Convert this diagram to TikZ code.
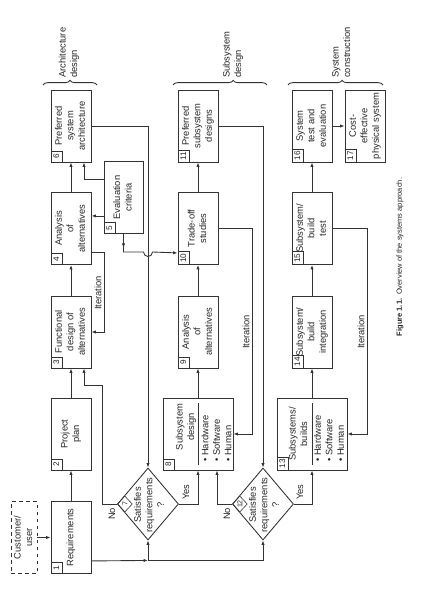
\documentclass[tikz,border=0pt]{standalone}
\usepackage{fontspec}
\setmainfont{Liberation Sans}
\usepackage{graphicx}
\usetikzlibrary{arrows.meta,calc,shapes.geometric,decorations.pathreplacing}
\definecolor{LineGray}{HTML}{333333}
\definecolor{TextGray}{HTML}{262626}
\newcommand{\rotc}[1]{\rotatebox{90}{\begin{tabular}{@{}c@{}}#1\end{tabular}}}
\newcommand{\rotl}[1]{\rotatebox{90}{\begin{tabular}{@{}l@{}}#1\end{tabular}}}

\begin{document}
\begin{tikzpicture}[x=0.03cm, y=-0.03cm,
    every node/.style={font=\fontsize{8}{9.8}\selectfont, text=TextGray},
    blk/.style={draw=LineGray, line width=0.75pt, minimum width=1.2cm,
                minimum height=2.16cm, inner sep=0pt},
    wblk/.style={blk, minimum width=2.1cm},
    tag/.style={draw=LineGray, line width=0.5pt, anchor=south west,
                minimum size=0.33cm, inner xsep=0.6pt, inner ysep=1.6pt,
                font=\fontsize{7}{8}\selectfont},
    dia/.style={draw=LineGray, line width=0.75pt, diamond, minimum width=1.83cm,
                minimum height=2.16cm, inner sep=0pt},
    dtag/.style={draw=LineGray, line width=0.5pt, diamond, anchor=west,
                 minimum width=0.45cm, minimum height=0.48cm, inner sep=-1.2pt,
                 font=\fontsize{6}{7}\selectfont},
    txt/.style={inner sep=0pt},
    ln/.style={draw=LineGray, line width=0.75pt},
    ar/.style={-{Latex[length=3.8pt,width=2.8pt]}, draw=LineGray, line width=0.75pt},
    brc/.style={ln, decorate, decoration={brace, amplitude=4pt, aspect=#1}},
    brc/.default=0.5]
  \useasboundingbox (0,0) rectangle (428,596);

  % architecture design column
  \node[blk, dashed, minimum width=0.78cm] (cust) at (24,537.5) {\rotc{Customer/\\user}};
  \node[blk] (req)  at (71,537.5) {\rotc{Requirements}};
  \node[blk] (plan) at (71,434)   {\rotc{Project\\plan}};
  \node[blk] (func) at (71,332)   {\rotc{Functional\\design of\\alternatives}};
  \node[blk] (anaA) at (71,228.5) {\rotc{Analysis\\of\\alternatives}};
  \node[blk, minimum width=1.17cm] (eval) at (123.5,197.5) {\rotc{Evaluation\\criteria}};
  \node[blk] (arch) at (71,126)   {\rotc{Preferred\\system\\architecture}};
  \node[dia] (satA) at (148,504) {};

  % subsystem design column
  \node[wblk] (subd)  at (198,434)   {};
  \node[blk]  (anaB)  at (198,332)   {\rotc{Analysis\\of\\alternatives}};
  \node[blk]  (trade) at (198,228.5) {\rotc{Trade-off\\studies}};
  \node[blk]  (prefs) at (198,126)   {\rotc{Preferred\\subsystem\\designs}};
  \node[dia]  (satB)  at (263,504) {};

  % system construction column
  \node[wblk] (builds) at (312,434)   {};
  \node[blk]  (integ)  at (312,332)   {\rotc{Subsystem/\\build\\integration}};
  \node[blk]  (btest)  at (312,228.5) {\rotc{Subsystem/\\build\\test}};
  \node[blk]  (stest)  at (312,126)   {\rotc{System\\test and\\evaluation}};
  \node[blk]  (final)  at (365,126)   {\rotc{Cost-\\effective\\physical system}};

  % box contents
  \node[txt] (subdtxt) at ($(subd.center)+(-12,-7)$) {\rotc{Subsystem\\design}};
  \draw[ln, line width=0.5pt] ($(subd.center)+(0,-31)$) -- ($(subd.center)+(0,31)$);
  \node[txt, anchor=south] (subdlist) at ($(subd.center)+(19.5,28)$)
    {\rotl{\textbullet\ Hardware\\\textbullet\ Software\\\textbullet\ Human}};
  \node[txt] (buildtxt) at ($(builds.center)+(-13,0)$) {\rotc{Subsystems/\\builds}};
  \draw[ln, line width=0.5pt] ($(builds.center)+(0,-31)$) -- ($(builds.center)+(0,31)$);
  \node[txt, anchor=south] (buildlist) at ($(builds.center)+(18,28)$)
    {\rotl{\textbullet\ Hardware\\\textbullet\ Software\\\textbullet\ Human}};
  \node[txt] (satAtxt) at ($(satA.center)+(2,1)$) {\rotc{Satisfies\\requirements\\?}};
  \node[txt] (satBtxt) at ($(satB.center)+(2,1)$) {\rotc{Satisfies\\requirements\\?}};

  % numbers
  \node[tag] (n1)  at (req.south west)    {\rotatebox{90}{1}};
  \node[tag] (n2)  at (plan.south west)   {\rotatebox{90}{2}};
  \node[tag] (n3)  at (func.south west)   {\rotatebox{90}{3}};
  \node[tag] (n4)  at (anaA.south west)   {\rotatebox{90}{4}};
  \node[tag] (n5)  at (eval.south west)   {\rotatebox{90}{5}};
  \node[tag] (n6)  at (arch.south west)   {\rotatebox{90}{6}};
  \node[dtag] (n7) at (satA.west)         {\rotatebox{90}{7}};
  \node[tag] (n8)  at (subd.south west)   {\rotatebox{90}{8}};
  \node[tag] (n9)  at (anaB.south west)   {\rotatebox{90}{9}};
  \node[tag] (n10) at (trade.south west)  {\rotatebox{90}{10}};
  \node[tag] (n11) at (prefs.south west)  {\rotatebox{90}{11}};
  \node[dtag] (n12) at (satB.west)        {\rotatebox{90}{12}};
  \node[tag] (n13) at (builds.south west) {\rotatebox{90}{13}};
  \node[tag] (n14) at (integ.south west)  {\rotatebox{90}{14}};
  \node[tag] (n15) at (btest.south west)  {\rotatebox{90}{15}};
  \node[tag] (n16) at (stest.south west)  {\rotatebox{90}{16}};
  \node[tag] (n17) at (final.south west)  {\rotatebox{90}{17}};

  % labels
  \node[txt] (noA)  at (112,514) {\rotatebox{90}{No}};
  \node[txt] (yesA) at (186,492) {\rotatebox{90}{Yes}};
  \node[txt] (noB)  at (227,514) {\rotatebox{90}{No}};
  \node[txt] (yesB) at (300,492) {\rotatebox{90}{Yes}};
  \node[txt] (itA)  at (98,293)  {\rotatebox{90}{Iteration}};
  \node[txt] (itB)  at (246,332) {\rotatebox{90}{Iteration}};
  \node[txt] (itC)  at (361,332) {\rotatebox{90}{Iteration}};

  % connectors
  \draw[ar] (cust) -- (req);
  \draw[ar] (req) -- (plan);
  \draw[ar] (plan) -- (func);
  \draw[ar] (func) -- (anaA);
  \draw[ar] (anaA) -- (arch);
  \draw[ar] ($(req.south east)+(0,-13)$) -- ($(satA.south)+(0,20)$);
  \draw[ar] ($(satA.south)+(0,20)$) -- (satA.south);
  \draw[ar] ($(satA.south)+(0,20)$) -| (satB.south);
  \draw[ar] (satA.west) -- ++(-15,0) |- ($(func.south)+(13,17)$) -- ($(func.south)+(13,0)$);
  \draw[ar] (satA.east) -| (subd.south);
  \draw[ar] (satB.west) -| ($(subd.south)+(19,0)$);
  \draw[ar] (satB.east) -| (builds.south);
  \draw[ar] ($(anaA.south east)+(0,-13)$) -- ++(13,0) |- (func.east);
  \draw[ar] ($(eval.south west)+(0,-18)$) -- ($(anaA.south east)+(0,-49)$);
  \draw[ar] ($(eval.north west)+(0,18)$) -| ($(arch.south)+(13,0)$);
  \draw[ar] (eval.south) -- ++(0,14);
  \draw[ar] (eval.south) |- (143.5,252) arc[start angle=180, end angle=360, radius=0.135cm]
    -- ($(trade.south west)+(0,-12)$);
  \draw[ar] (arch.east) -| (satA.north);
  \draw[ar] (subd) -- (anaB);
  \draw[ar] (anaB) -- (trade);
  \draw[ar] (trade) -- (prefs);
  \draw[ar] (trade.east) -- ++(34,0) |- (subd.east);
  \draw[ar] (prefs.east) -| (satB.north);
  \draw[ar] (builds) -- (integ);
  \draw[ar] (integ) -- (btest);
  \draw[ar] (btest) -- (stest);
  \draw[ar] (stest) -- (final);
  \draw[ar] (btest.east) -- ++(35,0) |- (builds.east);

  % phase braces
  \draw[brc] (43,85) -- (97,85);
  \draw[brc=0.64] (173,85) -- (267,85);
  \draw[brc=0.57] (288,85) -- (383,85);
  \node[txt, anchor=south] (archlbl) at (69,78)  {\rotl{Architecture\\design}};
  \node[txt, anchor=south] (sublbl)  at (233,78) {\rotl{Subsystem\\design}};
  \node[txt, anchor=south] (conlbl)  at (342,78) {\rotl{System\\construction}};

  \node[txt, font=\fontsize{6.4}{8}\selectfont] (cap) at (400,257)
    {\rotatebox{90}{\textbf{Figure 1.1.}\enspace Overview of the systems approach.}};
\end{tikzpicture}
\end{document}
